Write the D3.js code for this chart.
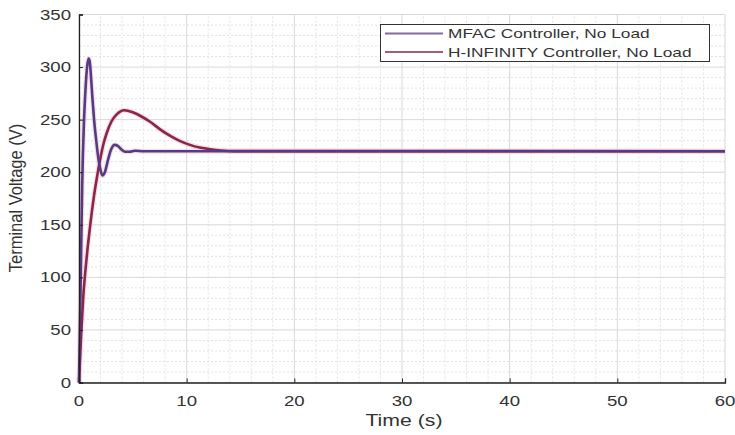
<!DOCTYPE html>
<html>
<head>
<meta charset="utf-8">
<script src="https://cdn.jsdelivr.net/npm/d3@7"></script>
<style>
  html, body { margin: 0; padding: 0; background: #fff; }
  svg { display: block; }
  text { font-family: "Liberation Sans", Arial, Helvetica, sans-serif; fill: #333; }
</style>
</head>
<body>
<svg id="chart" width="735" height="435"></svg>
<script>
// Terminal voltage response, no load
const mfacTime    = [0, 0.1, 0.2, 0.3, 0.45, 0.6, 0.75, 0.9, 1.0, 1.1, 1.25, 1.4, 1.6, 1.8, 2.0, 2.17, 2.4, 2.7, 3.0, 3.3, 3.6, 3.9, 4.3, 4.7, 5.2, 6.0, 60];
const mfacVoltage = [0, 60, 125, 190, 245, 278, 300, 308, 305, 293, 270, 250, 230, 213, 202, 197, 200, 212, 222, 226, 225, 222, 219.5, 219.5, 220.4, 220, 220];

const hinfTime    = [0, 0.2, 0.4, 0.6, 0.8, 1.0, 1.2, 1.4, 1.7, 2.0, 2.3, 2.6, 3.0, 3.5, 4.2, 5.0, 5.8, 6.6, 7.5, 8.4, 9.3, 10.3, 11.2, 12.2, 13.2, 14.5, 60];
const hinfVoltage = [0, 46, 82, 107, 128, 146, 163, 178, 197, 214, 228, 238, 248, 255, 259, 257, 253, 248, 241, 235, 230, 226, 223.5, 221.8, 220.7, 220.1, 220];

const xTicks = [0, 10, 20, 30, 40, 50, 60];
const yTicks = [0, 50, 100, 150, 200, 250, 300, 350];
const seriesNames = ["MFAC Controller, No Load", "H-INFINITY Controller, No Load"];
const seriesColors = ["#553c80", "#8a2646"];

const svg = d3.select("#chart");
const margin = { left: 79, right: 10, top: 14.5, bottom: 52.5 };
const W = 735, H = 435;
const x = d3.scaleLinear().domain([0, 60]).range([margin.left, W - margin.right]);
const y = d3.scaleLinear().domain([0, 350]).range([H - margin.bottom, margin.top]);

const SX = 1.33; // horizontal glyph stretch used for all labels

function label(g, px, py, str, size, anchor, extra) {
  return g.append("text")
    .attr("transform", `translate(${px},${py}) ${extra || ""} scale(${SX},1)`)
    .attr("text-anchor", anchor)
    .style("font-size", size + "px")
    .text(str);
}

// minor grid
const grid = svg.append("g");
grid.selectAll("line.mx").data(d3.range(0, 61, 2).filter(v => v % 10 !== 0)).join("line")
  .attr("x1", d => x(d)).attr("x2", d => x(d)).attr("y1", y(0)).attr("y2", y(350))
  .attr("stroke", "#e2e2e2").attr("stroke-dasharray", "2,2").attr("stroke-width", 1);
grid.selectAll("line.my").data(d3.range(0, 351, 10).filter(v => v % 50 !== 0)).join("line")
  .attr("x1", x(0)).attr("x2", x(60)).attr("y1", d => y(d)).attr("y2", d => y(d))
  .attr("stroke", "#e2e2e2").attr("stroke-dasharray", "2,2").attr("stroke-width", 1);
// major grid
grid.selectAll("line.gx").data(xTicks).join("line")
  .attr("x1", d => x(d)).attr("x2", d => x(d)).attr("y1", y(0)).attr("y2", y(350))
  .attr("stroke", "#d8d8d8").attr("stroke-width", 1);
grid.selectAll("line.gy").data(yTicks).join("line")
  .attr("x1", x(0)).attr("x2", x(60)).attr("y1", d => y(d)).attr("y2", d => y(d))
  .attr("stroke", "#d8d8d8").attr("stroke-width", 1);

// curves
const line = d3.line().curve(d3.curveMonotoneX);
const series = [
  { t: hinfTime, v: hinfVoltage, c: seriesColors[1] },
  { t: mfacTime, v: mfacVoltage, c: seriesColors[0] }
];
series.forEach(s => {
  const pts = s.t.map((t, i) => [x(t), y(s.v[i])]);
  svg.append("path").attr("d", line(pts)).attr("fill", "none")
    .attr("stroke", "#f2c4dc").attr("stroke-width", 5).attr("stroke-opacity", 0.6)
    .attr("stroke-linejoin", "round");
});
series.forEach(s => {
  const pts = s.t.map((t, i) => [x(t), y(s.v[i])]);
  svg.append("path").attr("d", line(pts)).attr("fill", "none")
    .attr("stroke", s.c).attr("stroke-width", 2.6).attr("stroke-linejoin", "round");
});

// axes
const xAxis = svg.append("g").attr("transform", `translate(0,${y(0)})`)
  .call(d3.axisBottom(x).tickValues(xTicks).tickSize(-4).tickFormat(""));
const yAxis = svg.append("g").attr("transform", `translate(${x(0)},0)`)
  .call(d3.axisLeft(y).tickValues(yTicks).tickSize(-4).tickFormat(""));
[xAxis, yAxis].forEach(a => {
  a.select(".domain").attr("stroke", "#222").attr("stroke-width", 1.3);
  a.selectAll(".tick line").attr("stroke", "#222");
});

const labels = svg.append("g");
xTicks.forEach(v => label(labels, x(v), 406, String(v), 14, "middle"));
yTicks.forEach(v => label(labels, x(0) - 8, y(v) + 5, String(v), 14, "end"));

// axis titles
label(labels, 404, 426, "Time (s)", 16, "middle");
svg.append("text")
  .attr("transform", `translate(22,198) rotate(-90) scale(1,1.15)`)
  .attr("text-anchor", "middle")
  .style("font-size", "16.5px")
  .text("Terminal Voltage (V)");

// legend
const leg = svg.append("g");
leg.append("rect").attr("x", 380.5).attr("y", 24.5).attr("width", 329).attr("height", 37)
  .attr("fill", "#fff").attr("stroke", "#333").attr("stroke-width", 1);
seriesNames.forEach((name, i) => {
  const ly = 33.5 + i * 18.5;
  leg.append("line").attr("x1", 385).attr("x2", 443).attr("y1", ly).attr("y2", ly)
    .attr("stroke", seriesColors[i]).attr("stroke-width", 2).attr("stroke-opacity", 0.75);
  label(leg, 448, ly + 4.5, name, 13, "start");
});
</script>
</body>
</html>
